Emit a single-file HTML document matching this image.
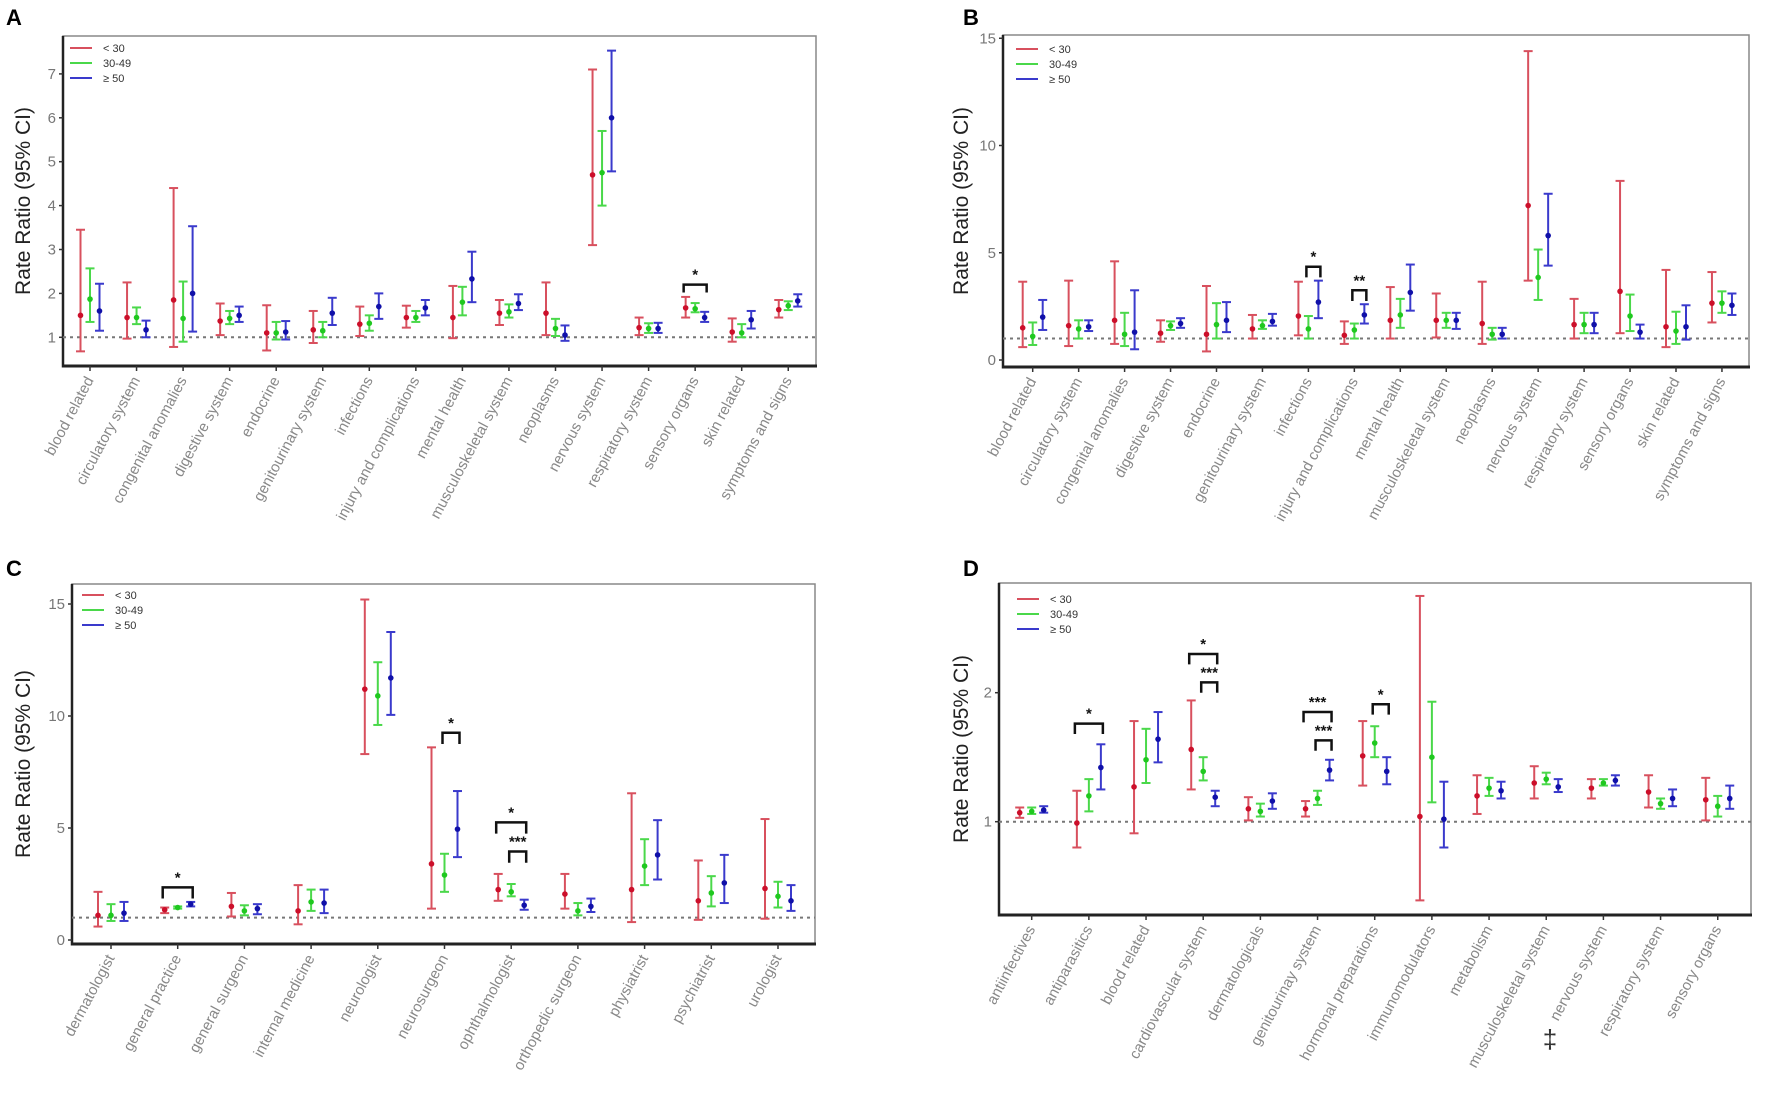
<!DOCTYPE html>
<html><head><meta charset="utf-8">
<style>
html,body{margin:0;padding:0;background:#fff;}
svg{display:block;font-family:"Liberation Sans",Arial,sans-serif;}
</style></head>
<body>
<svg id="fig" width="1772" height="1099" viewBox="0 0 1772 1099" xmlns="http://www.w3.org/2000/svg"></svg>
<script>
// ---------- DATA ----------
const catsA = ["blood related","circulatory system","congenital anomalies","digestive system","endocrine","genitourinary system","infections","injury and complications","mental health","musculoskeletal system","neoplasms","nervous system","respiratory system","sensory organs","skin related","symptoms and signs"];
const aRed = [1.5,1.45,1.85,1.37,1.1,1.17,1.3,1.45,1.45,1.55,1.55,4.7,1.22,1.67,1.12,1.63];
const aRedLo = [0.68,0.97,0.78,1.05,0.7,0.87,1.03,1.22,0.98,1.28,1.05,3.1,1.05,1.45,0.9,1.45];
const aRedHi = [3.45,2.25,4.4,1.77,1.73,1.6,1.7,1.72,2.17,1.85,2.25,7.1,1.45,1.92,1.43,1.85];
const aGreen = [1.87,1.45,1.43,1.43,1.1,1.15,1.32,1.45,1.8,1.58,1.2,4.75,1.2,1.65,1.1,1.72];
const aGreenLo = [1.35,1.3,0.9,1.3,0.95,1.0,1.15,1.35,1.5,1.45,1.03,4.0,1.1,1.57,1.0,1.62];
const aGreenHi = [2.57,1.68,2.27,1.6,1.35,1.35,1.5,1.6,2.15,1.75,1.42,5.7,1.32,1.78,1.3,1.82];
const aBlue = [1.6,1.17,2.0,1.5,1.12,1.55,1.7,1.67,2.33,1.77,1.05,6.0,1.2,1.45,1.4,1.83];
const aBlueLo = [1.15,1.0,1.13,1.35,0.95,1.28,1.42,1.5,1.8,1.62,0.92,4.78,1.1,1.35,1.2,1.7];
const aBlueHi = [2.22,1.38,3.53,1.7,1.37,1.9,2.0,1.85,2.95,1.98,1.27,7.53,1.33,1.58,1.6,1.98];
const aTicks = [1,2,3,4,5,6,7];

const catsB = catsA;
const bRed = [1.5,1.6,1.85,1.25,1.2,1.45,2.05,1.15,1.85,1.85,1.7,7.2,1.65,3.2,1.55,2.65];
const bRedLo = [0.6,0.65,0.75,0.85,0.4,1.0,1.15,0.75,1.0,1.05,0.75,3.7,1.0,1.25,0.6,1.75];
const bRedHi = [3.65,3.7,4.6,1.85,3.45,2.1,3.65,1.8,3.4,3.1,3.65,14.4,2.85,8.35,4.2,4.1];
const bGreen = [1.1,1.45,1.2,1.6,1.65,1.6,1.45,1.4,2.1,1.85,1.2,3.85,1.65,2.05,1.35,2.65];
const bGreenLo = [0.7,1.0,0.65,1.4,1.0,1.45,1.0,1.0,1.5,1.5,0.95,2.8,1.25,1.35,0.75,2.2];
const bGreenHi = [1.75,1.85,2.2,1.8,2.65,1.85,2.05,1.7,2.85,2.2,1.5,5.15,2.2,3.05,2.25,3.2];
const bBlue = [2.0,1.55,1.3,1.7,1.85,1.8,2.7,2.1,3.15,1.85,1.2,5.8,1.65,1.3,1.55,2.55];
const bBlueLo = [1.4,1.35,0.5,1.5,1.3,1.6,1.95,1.7,2.3,1.45,1.0,4.4,1.25,1.0,0.95,2.1];
const bBlueHi = [2.8,1.85,3.25,1.95,2.7,2.15,3.7,2.6,4.45,2.2,1.5,7.75,2.2,1.65,2.55,3.1];
const bTicks = [0,5,10,15];

const catsC = ["dermatologist","general practice","general surgeon","internal medicine","neurologist","neurosurgeon","ophthalmologist","orthopedic surgeon","physiatrist","psychiatrist","urologist"];
const cRed = [1.1,1.35,1.5,1.3,11.2,3.4,2.25,2.05,2.25,1.75,2.3];
const cRedLo = [0.6,1.2,1.05,0.7,8.3,1.4,1.75,1.4,0.8,0.9,0.95];
const cRedHi = [2.15,1.45,2.1,2.45,15.2,8.6,2.95,2.95,6.55,3.55,5.4];
const cGreen = [1.1,1.45,1.3,1.7,10.9,2.9,2.15,1.3,3.3,2.1,1.95];
const cGreenLo = [0.85,1.4,1.1,1.3,9.6,2.15,1.95,1.1,2.45,1.5,1.45];
const cGreenHi = [1.6,1.5,1.55,2.25,12.4,3.85,2.5,1.65,4.5,2.85,2.6];
const cBlue = [1.2,1.6,1.4,1.65,11.7,4.95,1.55,1.5,3.8,2.55,1.75];
const cBlueLo = [0.85,1.5,1.15,1.2,10.05,3.7,1.35,1.25,2.7,1.65,1.3];
const cBlueHi = [1.7,1.7,1.6,2.25,13.75,6.65,1.8,1.85,5.35,3.8,2.45];
const cTicks = [0,5,10,15];

const catsD = ["antiinfectives","antiparasitics","blood related","cardiovascular system","dermatologicals","genitourinay system","hormonal preparations","immunomodulators","metabolism","musculoskeletal system","nervous system","respiratory system","sensory organs"];
const dRed = [1.07,0.99,1.27,1.56,1.1,1.1,1.51,1.04,1.2,1.3,1.26,1.23,1.17];
const dRedLo = [1.03,0.8,0.91,1.25,1.01,1.04,1.28,0.39,1.06,1.18,1.18,1.11,1.01];
const dRedHi = [1.11,1.24,1.78,1.94,1.19,1.16,1.78,2.75,1.36,1.43,1.33,1.36,1.34];
const dGreen = [1.08,1.2,1.48,1.39,1.08,1.18,1.61,1.5,1.26,1.33,1.3,1.14,1.12];
const dGreenLo = [1.06,1.08,1.3,1.32,1.04,1.13,1.5,1.15,1.2,1.29,1.28,1.1,1.04];
const dGreenHi = [1.11,1.33,1.72,1.5,1.14,1.24,1.74,1.93,1.34,1.38,1.33,1.18,1.2];
const dBlue = [1.09,1.42,1.64,1.19,1.16,1.4,1.39,1.02,1.24,1.27,1.32,1.18,1.18];
const dBlueLo = [1.07,1.25,1.46,1.12,1.1,1.32,1.29,0.8,1.18,1.23,1.28,1.12,1.1];
const dBlueHi = [1.12,1.6,1.85,1.24,1.22,1.48,1.5,1.31,1.31,1.33,1.36,1.25,1.28];
const dTicks = [1,2];

// significance brackets: [category index, from series, to series, base value, top value, label]
const sigA = [[13,0,2,2.02,2.2,"*"]];
const sigB = [[6,1,2,3.85,4.35,"*"],[7,1,2,2.75,3.25,"**"]];
const sigC = [[1,0,2,1.85,2.35,"*"],[5,1,2,8.75,9.25,"*"],[6,0,2,4.75,5.25,"*"],[6,1,2,3.45,3.95,"***"]];
const sigD = [[1,0,2,1.68,1.76,"*"],[3,0,2,2.22,2.3,"*"],[3,1,2,2.0,2.08,"***"],[5,0,2,1.77,1.85,"***"],[5,1,2,1.55,1.63,"***"],[6,1,2,1.83,1.91,"*"]];

// ---------- DRAWING ----------
const NS = "http://www.w3.org/2000/svg";
const svg = document.getElementById("fig");
const lineCol = ["#d8505e","#4ad84a","#3a3acc"];
const dotCol = ["#cc0f2a","#1fc81f","#1010a8"];
const legendTxt = ["< 30","30-49","\u2265 50"];

function mk(tag, parent, attrs){
  const e = document.createElementNS(NS, tag);
  for (const k in attrs) e.setAttribute(k, attrs[k]);
  parent.appendChild(e);
  return e;
}

function panel(cfg){
  const g = mk("g", svg, {});
  
  
  const y = v => cfg.y0 - (v - cfg.v0) * cfg.k;
  const x = i => cfg.x0 + i * cfg.dx;

  const lab = mk("text", g, {x: cfg.lx, y: cfg.ly, "font-size": 22, "font-weight": "bold", fill: "#000"});
  lab.textContent = cfg.id;
  
  

  const box = mk("rect", g, {x: cfg.L, y: cfg.T, width: cfg.R - cfg.L, height: cfg.B - cfg.T, fill: "none", stroke: "#888", "stroke-width": 1.5});
  
  
  mk("line", g, {x1: cfg.L, y1: cfg.T, x2: cfg.L, y2: cfg.B + 1.5, stroke: "#222", "stroke-width": 2.5});
  const xa = mk("line", g, {x1: cfg.L - 1, y1: cfg.B, x2: cfg.R + 1, y2: cfg.B, stroke: "#222", "stroke-width": 3});
  
  

  cfg.ticks.forEach(t => {
    mk("line", g, {x1: cfg.L - 4, y1: y(t), x2: cfg.L, y2: y(t), stroke: "#333", "stroke-width": 1.5});
    const tt = mk("text", g, {x: cfg.L - 7, y: y(t) + 5, "font-size": 15, fill: "#777", "text-anchor": "end"});
    tt.textContent = t;
    
    
  });
  const yt = mk("text", g, {x: cfg.tx, y: (cfg.T + cfg.B) / 2, "font-size": 21, fill: "#222", "text-anchor": "middle", transform: `rotate(-90 ${cfg.tx} ${(cfg.T + cfg.B) / 2})`});
  yt.textContent = "Rate Ratio (95% CI)";
  
  

  const ref = mk("line", g, {x1: cfg.L, y1: y(1), x2: cfg.R, y2: y(1), stroke: "#777", "stroke-width": 2, "stroke-dasharray": "3 4"});
  
  

  cfg.cats.forEach((c, i) => {
    mk("line", g, {x1: x(i), y1: cfg.B, x2: x(i), y2: cfg.B + 5, stroke: "#333", "stroke-width": 1.5});
    const ty = cfg.B + 14;
    const tl = mk("text", g, {x: x(i) + 4, y: ty, "font-size": 15, fill: "#888", "text-anchor": "end", transform: `rotate(-62 ${x(i) + 4} ${ty})`});
    tl.textContent = c;
    
    
  });

  cfg.series.forEach((s, si) => {
    const [est, lo, hi] = s;
    est.forEach((v, i) => {
      const cx = x(i) + (si - 1) * cfg.off;
      const eg = mk("g", g, {});
      
      
      const st = {stroke: lineCol[si], "stroke-width": 2};
      mk("line", eg, Object.assign({x1: cx, y1: y(lo[i]), x2: cx, y2: y(hi[i])}, st));
      mk("line", eg, Object.assign({x1: cx - 4.5, y1: y(lo[i]), x2: cx + 4.5, y2: y(lo[i])}, st));
      mk("line", eg, Object.assign({x1: cx - 4.5, y1: y(hi[i]), x2: cx + 4.5, y2: y(hi[i])}, st));
      const pt = mk("circle", eg, {cx: cx, cy: y(v), r: 2.8, fill: dotCol[si]});
      
      
    });
  });

  cfg.sig.forEach(s => {
    const [ci, a, b, base, top, txt] = s;
    const xa1 = x(ci) + (a - 1) * cfg.off - 2, xb1 = x(ci) + (b - 1) * cfg.off + 2;
    const br = mk("path", g, {d: `M${xa1} ${y(base)} L${xa1} ${y(top)} L${xb1} ${y(top)} L${xb1} ${y(base)}`, fill: "none", stroke: "#111", "stroke-width": 2.5});
    
    
    const st = mk("text", g, {x: (xa1 + xb1) / 2, y: y(top) - 5, "font-size": 15, "font-weight": "bold", fill: "#111", "text-anchor": "middle"});
    st.textContent = txt;
    
    
  });

  const lg = mk("g", g, {});
  
  
  legendTxt.forEach((t, i) => {
    const ly = cfg.legY + i * 15;
    mk("line", lg, {x1: cfg.legX, y1: ly, x2: cfg.legX + 22, y2: ly, stroke: lineCol[i], "stroke-width": 2});
    const lt = mk("text", lg, {x: cfg.legX + 33, y: ly + 4, "font-size": 11, fill: "#333"});
    lt.textContent = t;
    
    
  });
}

panel({id: "A", lx: 6, ly: 25, L: 63, R: 816, T: 36, B: 366, y0: 337.3, v0: 1, k: 43.9, x0: 90, dx: 46.55, off: 9.5, tx: 30,
  ticks: aTicks, cats: catsA, series: [[aRed, aRedLo, aRedHi], [aGreen, aGreenLo, aGreenHi], [aBlue, aBlueLo, aBlueHi]], sig: sigA, legX: 70, legY: 48});
panel({id: "B", lx: 963, ly: 25, L: 1003, R: 1749, T: 35, B: 367, y0: 360, v0: 0, k: 21.45, x0: 1032.7, dx: 45.95, off: 10, tx: 968,
  ticks: bTicks, cats: catsB, series: [[bRed, bRedLo, bRedHi], [bGreen, bGreenLo, bGreenHi], [bBlue, bBlueLo, bBlueHi]], sig: sigB, legX: 1016, legY: 49});
panel({id: "C", lx: 6, ly: 576, L: 72, R: 815, T: 584, B: 944, y0: 940, v0: 0, k: 22.4, x0: 111, dx: 66.7, off: 13, tx: 30,
  ticks: cTicks, cats: catsC, series: [[cRed, cRedLo, cRedHi], [cGreen, cGreenLo, cGreenHi], [cBlue, cBlueLo, cBlueHi]], sig: sigC, legX: 82, legY: 595});
panel({id: "D", lx: 963, ly: 576, L: 999, R: 1751, T: 583, B: 915, y0: 821.7, v0: 1, k: 129, x0: 1031.7, dx: 57.17, off: 12, tx: 968,
  ticks: dTicks, cats: catsD, series: [[dRed, dRedLo, dRedHi], [dGreen, dGreenLo, dGreenHi], [dBlue, dBlueLo, dBlueHi]], sig: sigD, legX: 1017, legY: 599});

const dd = mk("text", svg, {x: 1550, y: 1048, "font-size": 26, fill: "#333", "text-anchor": "middle"});
dd.textContent = "\u2021";


</script>
</body></html>
